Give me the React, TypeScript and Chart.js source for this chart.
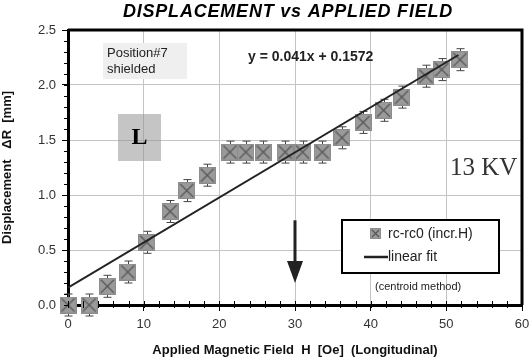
import React, { useEffect, useRef } from "react";
import { Chart, registerables } from "chart.js";

Chart.register(...registerables);

const fieldH = [0, 2.8, 5.2, 7.9, 10.4, 13.5, 15.7, 18.4, 21.4, 23.5, 25.8, 28.7, 31.0, 33.6, 36.2, 39.0, 41.7, 44.1, 47.3, 49.4, 51.8];
const displacement = [0.0, 0.0, 0.17, 0.3, 0.57, 0.85, 1.04, 1.18, 1.39, 1.39, 1.39, 1.39, 1.39, 1.39, 1.52, 1.66, 1.77, 1.89, 2.08, 2.14, 2.23];
const errorBars = [0.1, 0.1, 0.1, 0.1, 0.1, 0.1, 0.1, 0.1, 0.1, 0.1, 0.1, 0.1, 0.1, 0.1, 0.1, 0.1, 0.1, 0.1, 0.1, 0.1, 0.1];
const fitX = [0, 51.6];
const fitY = [0.1572, 2.2728];
const xTicks = [0, 10, 20, 30, 40, 50, 60];
const yTicks = [0, 0.5, 1.0, 1.5, 2.0, 2.5];

const TITLE = "DISPLACEMENT vs APPLIED FIELD";
const EQUATION = "y = 0.041x + 0.1572";
const SANS = "'Liberation Sans', Arial, sans-serif";
const SERIF = "'Liberation Serif', 'Times New Roman', serif";

function makeMarker(size: number): HTMLCanvasElement {
  const c = document.createElement("canvas");
  c.width = size;
  c.height = size;
  const g = c.getContext("2d")!;
  g.fillStyle = "#9a9a9a";
  g.fillRect(0, 0, size, size);
  g.strokeStyle = "#8c8c8c";
  g.lineWidth = 1;
  g.strokeRect(0.5, 0.5, size - 1, size - 1);
  g.strokeStyle = "#555";
  g.lineWidth = 1.2;
  g.beginPath();
  g.moveTo(2, 2);
  g.lineTo(size - 2, size - 2);
  g.moveTo(size - 2, 2);
  g.lineTo(2, size - 2);
  g.stroke();
  return c;
}

export default function App() {
  const ref = useRef<HTMLCanvasElement | null>(null);

  useEffect(() => {
    const canvas = ref.current;
    if (!canvas) return;
    const marker = makeMarker(17);
    const legendMarker = makeMarker(11);

    const decor = {
      id: "decor",
      beforeDatasetsDraw(chart: any) {
        const ctx = chart.ctx;
        const xs = chart.scales.x;
        const ys = chart.scales.y;
        ctx.save();
        // Position box
        ctx.fillStyle = "#efefef";
        ctx.fillRect(103, 43, 84, 36);
        ctx.fillStyle = "#222";
        ctx.font = `13px ${SANS}`;
        ctx.textBaseline = "middle";
        ctx.textAlign = "left";
        ctx.fillText("Position#7", 107, 53);
        ctx.fillText("shielded", 107, 69);
        // L box (semi-transparent)
        ctx.fillStyle = "rgba(150,150,150,0.55)";
        ctx.fillRect(118, 114, 43, 47);
        ctx.fillStyle = "#000";
        ctx.font = `bold 24px ${SERIF}`;
        ctx.textAlign = "center";
        ctx.fillText("L", 139.5, 138);
        // error bars
        ctx.strokeStyle = "#444";
        ctx.lineWidth = 1;
        fieldH.forEach((h, i) => {
          const px = Math.round(xs.getPixelForValue(h)) + 0.5;
          const top = ys.getPixelForValue(displacement[i] + errorBars[i]);
          const bot = ys.getPixelForValue(displacement[i] - errorBars[i]);
          ctx.beginPath();
          ctx.moveTo(px, top);
          ctx.lineTo(px, bot);
          ctx.moveTo(px - 4, top);
          ctx.lineTo(px + 4, top);
          ctx.moveTo(px - 4, bot);
          ctx.lineTo(px + 4, bot);
          ctx.stroke();
        });
        ctx.restore();
      },
      afterDraw(chart: any) {
        const ctx = chart.ctx;
        const xs = chart.scales.x;
        const ys = chart.scales.y;
        const a = chart.chartArea;
        ctx.save();
        // top & right frame
        ctx.strokeStyle = "#000";
        ctx.lineWidth = 3;
        ctx.beginPath();
        ctx.moveTo(a.left, a.top);
        ctx.lineTo(a.right, a.top);
        ctx.lineTo(a.right, a.bottom);
        ctx.stroke();
        // minor ticks
        ctx.lineWidth = 1;
        for (let v = 0; v <= 2.5001; v += 0.1) {
          const py = Math.round(ys.getPixelForValue(v)) + 0.5;
          ctx.beginPath();
          ctx.moveTo(a.left - 4, py);
          ctx.lineTo(a.left, py);
          ctx.stroke();
        }
        for (let v = 0; v <= 60.001; v += 2) {
          const px = Math.round(xs.getPixelForValue(v)) + 0.5;
          ctx.beginPath();
          ctx.moveTo(px, a.bottom - 4);
          ctx.lineTo(px, a.bottom + 3);
          ctx.stroke();
        }
        // title
        ctx.fillStyle = "#000";
        ctx.font = `italic bold 18px ${SANS}`;
        (ctx as any).letterSpacing = "0.8px";
        ctx.textAlign = "center";
        ctx.textBaseline = "middle";
        ctx.fillText(TITLE, 288, 12);
        (ctx as any).letterSpacing = "0px";
        // equation
        ctx.font = `bold 14px ${SANS}`;
        ctx.fillStyle = "#222";
        ctx.textAlign = "left";
        ctx.fillText(EQUATION, 248, 57);
        // 13 KV
        ctx.font = `25px ${SERIF}`;
        ctx.fillStyle = "#333";
        ctx.fillText("13 KV", 450, 168);
        // arrow
        const ax = Math.round(xs.getPixelForValue(30));
        ctx.strokeStyle = "#222";
        ctx.fillStyle = "#222";
        ctx.lineWidth = 3;
        ctx.beginPath();
        ctx.moveTo(ax, ys.getPixelForValue(0.77));
        ctx.lineTo(ax, ys.getPixelForValue(0.3));
        ctx.stroke();
        const tip = ys.getPixelForValue(0.2);
        ctx.beginPath();
        ctx.moveTo(ax - 8, tip - 22);
        ctx.lineTo(ax + 8, tip - 22);
        ctx.lineTo(ax, tip);
        ctx.closePath();
        ctx.fill();
        // legend
        ctx.fillStyle = "#fff";
        ctx.strokeStyle = "#000";
        ctx.lineWidth = 2;
        ctx.beginPath();
        ctx.rect(342, 220, 157, 53);
        ctx.fill();
        ctx.stroke();
        ctx.drawImage(legendMarker, 370, 228);
        ctx.fillStyle = "#222";
        ctx.font = `14px ${SANS}`;
        ctx.textBaseline = "middle";
        ctx.fillText("rc-rc0 (incr.H)", 388, 234);
        ctx.strokeStyle = "#222";
        ctx.lineWidth = 2.5;
        ctx.beginPath();
        ctx.moveTo(364, 257);
        ctx.lineTo(388, 257);
        ctx.stroke();
        ctx.fillText("linear fit", 388, 257);
        ctx.font = `11px ${SANS}`;
        ctx.fillText("(centroid method)", 375, 287);
        ctx.restore();
      },
    };

    const chart = new Chart(canvas, {
      type: "scatter",
      data: {
        datasets: [
          {
            type: "line",
            label: "linear fit",
            data: fitX.map((x, i) => ({ x, y: fitY[i] })),
            borderColor: "#222",
            borderWidth: 2,
            pointRadius: 0,
            fill: false,
            order: 0,
          } as any,
          {
            label: "rc-rc0 (incr.H)",
            data: fieldH.map((x, i) => ({ x, y: displacement[i] })),
            pointStyle: marker,
            pointRadius: 9,
            clip: false,
            order: 1,
          } as any,
        ],
      },
      plugins: [decor],
      options: {
        animation: false,
        responsive: false,
        devicePixelRatio: 1,
        layout: { padding: { top: 30, right: 10, left: 0, bottom: 0 } },
        plugins: {
          legend: { display: false },
          title: { display: false },
          tooltip: { enabled: false },
        },
        scales: {
          x: {
            type: "linear",
            min: 0,
            max: 60,
            afterBuildTicks: (s: any) => {
              s.ticks = xTicks.map((v) => ({ value: v }));
            },
            afterFit: (s: any) => {
              s.height = 55;
              s.paddingLeft = 0;
              s.paddingRight = 0;
            },
            ticks: { color: "#333", font: { family: SANS, size: 13 }, padding: 6 },
            grid: { color: "#c4c4c4", lineWidth: 1, tickLength: 6, tickColor: "#000" },
            border: { color: "#000", width: 3 },
            title: {
              display: true,
              text: "Applied Magnetic Field  H  [Oe]  (Longitudinal)",
              color: "#111",
              font: { family: SANS, size: 13, weight: "bold" },
              padding: { top: 0, bottom: 2 },
              align: "center",
            },
          },
          y: {
            type: "linear",
            min: 0,
            max: 2.5,
            afterBuildTicks: (s: any) => {
              s.ticks = yTicks.map((v) => ({ value: v }));
            },
            afterFit: (s: any) => {
              s.width = 68;
              s.paddingTop = 0;
              s.paddingBottom = 0;
            },
            ticks: {
              color: "#333",
              font: { family: SANS, size: 13 },
              padding: 6,
              callback: (v: any) => Number(v).toFixed(1),
            },
            grid: { color: "#c4c4c4", lineWidth: 1, tickLength: 6, tickColor: "#000" },
            border: { color: "#000", width: 3 },
            title: {
              display: true,
              text: "Displacement   \u0394R  [mm]",
              color: "#111",
              font: { family: SANS, size: 13, weight: "bold" },
              padding: { top: 0, bottom: 10 },
            },
          },
        },
      } as any,
    });
    return () => chart.destroy();
  }, []);

  return (
    <div style={{ position: "absolute", left: 0, top: 0, width: 532, height: 360, background: "#fff" }}>
      <canvas ref={ref} width={532} height={360} style={{ display: "block" }} />
    </div>
  );
}
